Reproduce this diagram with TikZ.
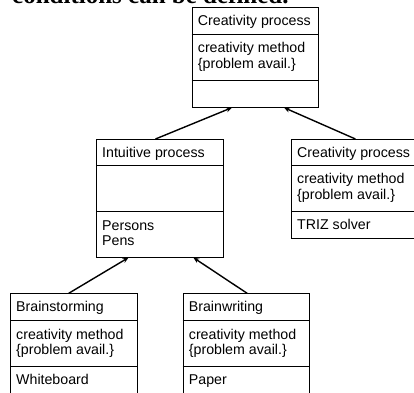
\documentclass[tikz,border=0pt]{standalone}
\usepackage{fontspec}
\setmainfont{Liberation Sans}
\newfontfamily\pagefont{Liberation Serif}
\usetikzlibrary{arrows.meta, calc}
\tikzset{cls/.style = {draw, line width=0.9pt, inner sep=0pt, minimum width=126.7pt, anchor=north west},
  txt/.style = {anchor=base west, inner sep=0pt, font=\fontsize{14.2}{15.8}\selectfont},
  gen/.style = {line width=1.4pt, -{Stealth[length=6pt, width=5pt]}}}
% class box: name, x, y, height, 1st divider, 2nd divider, title, attributes, resources
\newcommand{\clsbox}[9]{%
  \node[cls, minimum height=#4pt] (#1) at (#2,#3) {};
  \draw[line width=0.9pt] ($(#1.north west)+(0,#5)$) -- ($(#1.north east)+(0,#5)$);
  \draw[line width=0.9pt] ($(#1.north west)+(0,#6)$) -- ($(#1.north east)+(0,#6)$);
  \node[txt] (#1-t) at ($(#1.north west)+(6,18.3)$) {\begin{tabular}[t]{@{}l@{}}#7\end{tabular}};
  \node[txt] (#1-a) at ($(#1.north west)+(6,#5+18.3)$) {\begin{tabular}[t]{@{}l@{}}#8\end{tabular}};
  \node[txt] (#1-r) at ($(#1.north west)+(6,#6+18.3)$) {\begin{tabular}[t]{@{}l@{}}#9\end{tabular}};}

\begin{document}
\begin{tikzpicture}[x=1pt, y=-1pt]
\useasboundingbox (0,0) rectangle (414,392);
\clip (0,0) rectangle (414,392);
\node[anchor=base west, inner sep=0pt, font=\pagefont\bfseries\fontsize{25}{28}\selectfont] (caption) at (12,3.5) {conditions can be defined.};
\clsbox{top}{191.7}{7.3}{99.4}{26.7}{72.7}{Creativity process}{creativity method\\\{problem avail.\}}{}
\clsbox{intuit}{96}{139}{117.7}{26.7}{72.7}{Intuitive process}{}{Persons\\Pens}
\clsbox{triz}{291}{139}{99.3}{26}{72}{Creativity process}{creativity method\\\{problem avail.\}}{TRIZ solver}
\clsbox{storm}{10}{293.3}{101}{27.4}{72.7}{Brainstorming}{creativity method\\\{problem avail.\}}{Whiteboard}
\clsbox{write}{182.7}{293.3}{101}{27.4}{72.7}{Brainwriting}{creativity method\\\{problem avail.\}}{Paper}
% generalisation arrows
\draw[gen] ($(intuit.north west)!0.466!(intuit.north east)$) -- ($(top.south west)!0.316!(top.south east)$);
\draw[gen] ($(triz.north west)!0.505!(triz.north east)$) -- ($(top.south west)!0.723!(top.south east)$);
\draw[gen] ($(storm.north west)!0.46!(storm.north east)$) -- ($(intuit.south west)!0.255!(intuit.south east)$);
\draw[gen] ($(write.north west)!0.505!(write.north east)$) -- ($(intuit.south west)!0.763!(intuit.south east)$);
\end{tikzpicture}
\end{document}
